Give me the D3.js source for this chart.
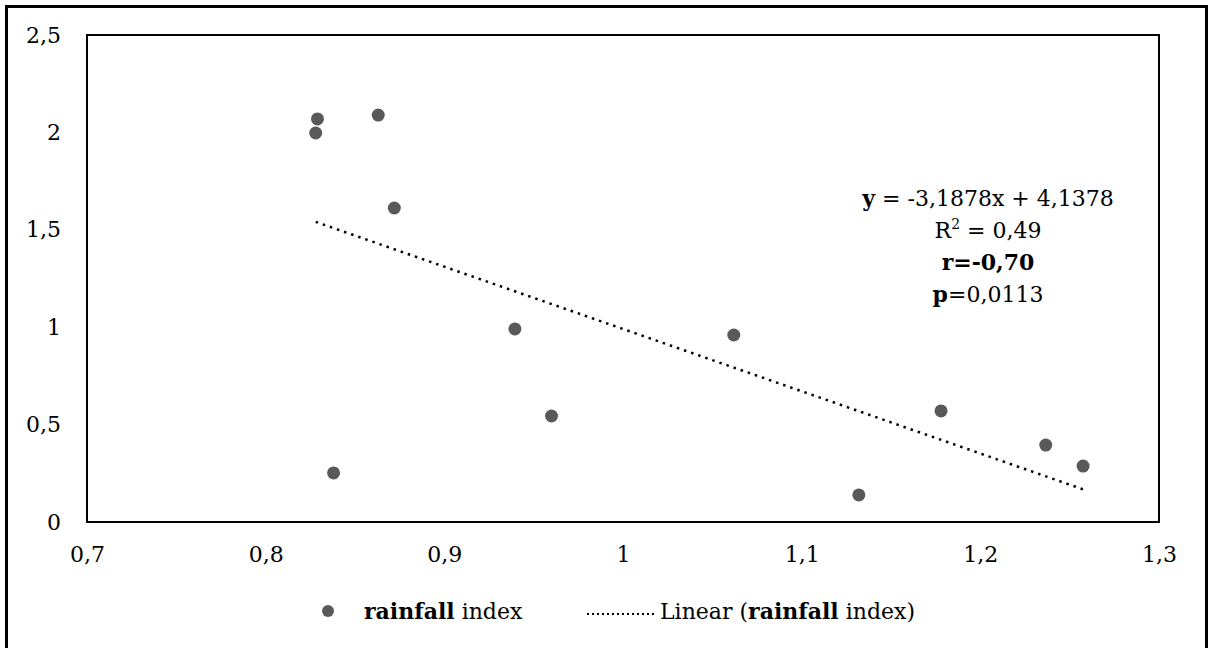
<!DOCTYPE HTML>
<html>
  <head>
    <title>rainfall index</title>
    <style>
      html, body { margin: 0; padding: 0; background: #fff; }
      svg text { font-family: "DejaVu Serif", "Liberation Serif", serif; fill: #000; }
    </style>
  </head>
  <body>
    <svg width="1209" height="648"></svg>
    <script src="https://d3js.org/d3.v7.min.js"></script>
    <script>
      // values
      var xValues = [ 0.829, 0.828, 0.863, 0.872, 0.838, 0.9395, 0.960, 1.062, 1.132, 1.178, 1.2366, 1.2575 ];
      var yValues = [ 2.069, 1.997, 2.089, 1.612, 0.252, 0.991, 0.544, 0.960, 0.139, 0.570, 0.395, 0.287 ];
      var xTicks = [ 0.7, 0.8, 0.9, 1, 1.1, 1.2, 1.3 ];
      var yTicks = [ 0, 0.5, 1, 1.5, 2, 2.5 ];
      var statLines = [
        [ [ 'y', true ], [ ' = -3,1878x + 4,1378', false ] ],
        [ [ 'R', false ], [ '2', false, true ], [ ' = 0,49', false ] ],
        [ [ 'r=-0,70', true ] ],
        [ [ 'p', true ], [ '=0,0113', false ] ]
      ];

      var svg = d3.select( 'svg' );
      var plotLeft = 87, plotRight = 1159, plotTop = 35, plotBottom = 522;

      var xScale = d3.scaleLinear().domain([ 0.7, 1.3 ]).range([ plotLeft, plotRight ]);
      var yScale = d3.scaleLinear().domain([ 0, 2.5 ]).range([ plotBottom, plotTop ]);
      var fmt = function( d ) { return String( d ).replace( '.', ',' ); };

      // outer frame
      svg.append( 'rect' )
        .attr( 'x', 6.5 ).attr( 'y', 6.5 )
        .attr( 'width', 1200 ).attr( 'height', 660 )
        .attr( 'fill', 'none' ).attr( 'stroke', '#000' ).attr( 'stroke-width', 3 );

      // plot frame
      svg.append( 'rect' )
        .attr( 'x', plotLeft ).attr( 'y', plotTop )
        .attr( 'width', plotRight - plotLeft ).attr( 'height', plotBottom - plotTop )
        .attr( 'fill', 'none' ).attr( 'stroke', '#000' ).attr( 'stroke-width', 2 );

      var xAxis = svg.append( 'g' )
        .attr( 'transform', 'translate(0,' + plotBottom + ')' )
        .call( d3.axisBottom( xScale ).tickValues( xTicks ).tickFormat( fmt ).tickSize( 0 ).tickPadding( 24 ) );
      var yAxis = svg.append( 'g' )
        .attr( 'transform', 'translate(' + plotLeft + ',0)' )
        .call( d3.axisLeft( yScale ).tickValues( yTicks ).tickFormat( fmt ).tickSize( 0 ).tickPadding( 26 ) );
      [ xAxis, yAxis ].forEach( function( g ) {
        g.select( '.domain' ).remove();
        g.selectAll( 'text' )
          .style( 'font-family', '"DejaVu Serif", serif' )
          .attr( 'font-size', 22 )
          .attr( 'fill', '#000' );
      } );

      // linear fit from the points
      var n = xValues.length;
      var mx = d3.mean( xValues ), my = d3.mean( yValues );
      var sxy = 0, sxx = 0;
      for( var i = 0; i < n; i++ ) {
        sxy += ( xValues[i] - mx ) * ( yValues[i] - my );
        sxx += ( xValues[i] - mx ) * ( xValues[i] - mx );
      }
      var slope = sxy / sxx, icpt = my - slope * mx;
      var x0 = d3.min( xValues ), x1 = d3.max( xValues );

      svg.append( 'line' )
        .attr( 'x1', xScale( x0 ) ).attr( 'y1', yScale( slope * x0 + icpt ) )
        .attr( 'x2', xScale( x1 ) ).attr( 'y2', yScale( slope * x1 + icpt ) )
        .attr( 'stroke', '#000' ).attr( 'stroke-width', 2.5 )
        .attr( 'stroke-dasharray', '2.5,5' );

      svg.selectAll( 'circle.pt' )
        .data( xValues )
        .enter()
        .append( 'circle' )
          .attr( 'class', 'pt' )
          .attr( 'r', 6.5 )
          .attr( 'cx', function( d ) { return xScale( d ); } )
          .attr( 'cy', function( d, i ) { return yScale( yValues[i] ); } )
          .attr( 'fill', '#595959' );

      // equation block
      var stat = svg.append( 'text' )
        .attr( 'text-anchor', 'middle' )
        .attr( 'font-size', 22 );
      statLines.forEach( function( line, li ) {
        var t = stat.append( 'tspan' ).attr( 'x', 988 ).attr( 'y', 206 + li * 32 );
        line.forEach( function( part, pi ) {
          var p = t.append( 'tspan' ).text( part[0] )
            .attr( 'font-weight', part[1] ? 'bold' : 'normal' );
          if( part[2] ) p.attr( 'font-size', 14 ).attr( 'dy', -9 );
          else if( pi > 0 && line[pi - 1][2] ) p.attr( 'dy', 9 );
        } );
      } );

      // legend
      var ly = 612;
      svg.append( 'circle' )
        .attr( 'cx', 328 ).attr( 'cy', ly - 1 ).attr( 'r', 6 ).attr( 'fill', '#595959' );
      var l1 = svg.append( 'text' ).attr( 'x', 364 ).attr( 'y', ly + 7 ).attr( 'font-size', 22 );
      l1.append( 'tspan' ).attr( 'font-weight', 'bold' ).text( 'rainfall' );
      l1.append( 'tspan' ).text( ' index' );
      svg.append( 'line' )
        .attr( 'x1', 587 ).attr( 'x2', 655 ).attr( 'y1', ly + 2 ).attr( 'y2', ly + 2 )
        .attr( 'stroke', '#000' ).attr( 'stroke-width', 2 ).attr( 'stroke-dasharray', '2,3' );
      var l2 = svg.append( 'text' ).attr( 'x', 660 ).attr( 'y', ly + 7 ).attr( 'font-size', 22 );
      l2.append( 'tspan' ).text( 'Linear (' );
      l2.append( 'tspan' ).attr( 'font-weight', 'bold' ).text( 'rainfall' );
      l2.append( 'tspan' ).text( ' index)' );
    </script>
  </body>
</html>
